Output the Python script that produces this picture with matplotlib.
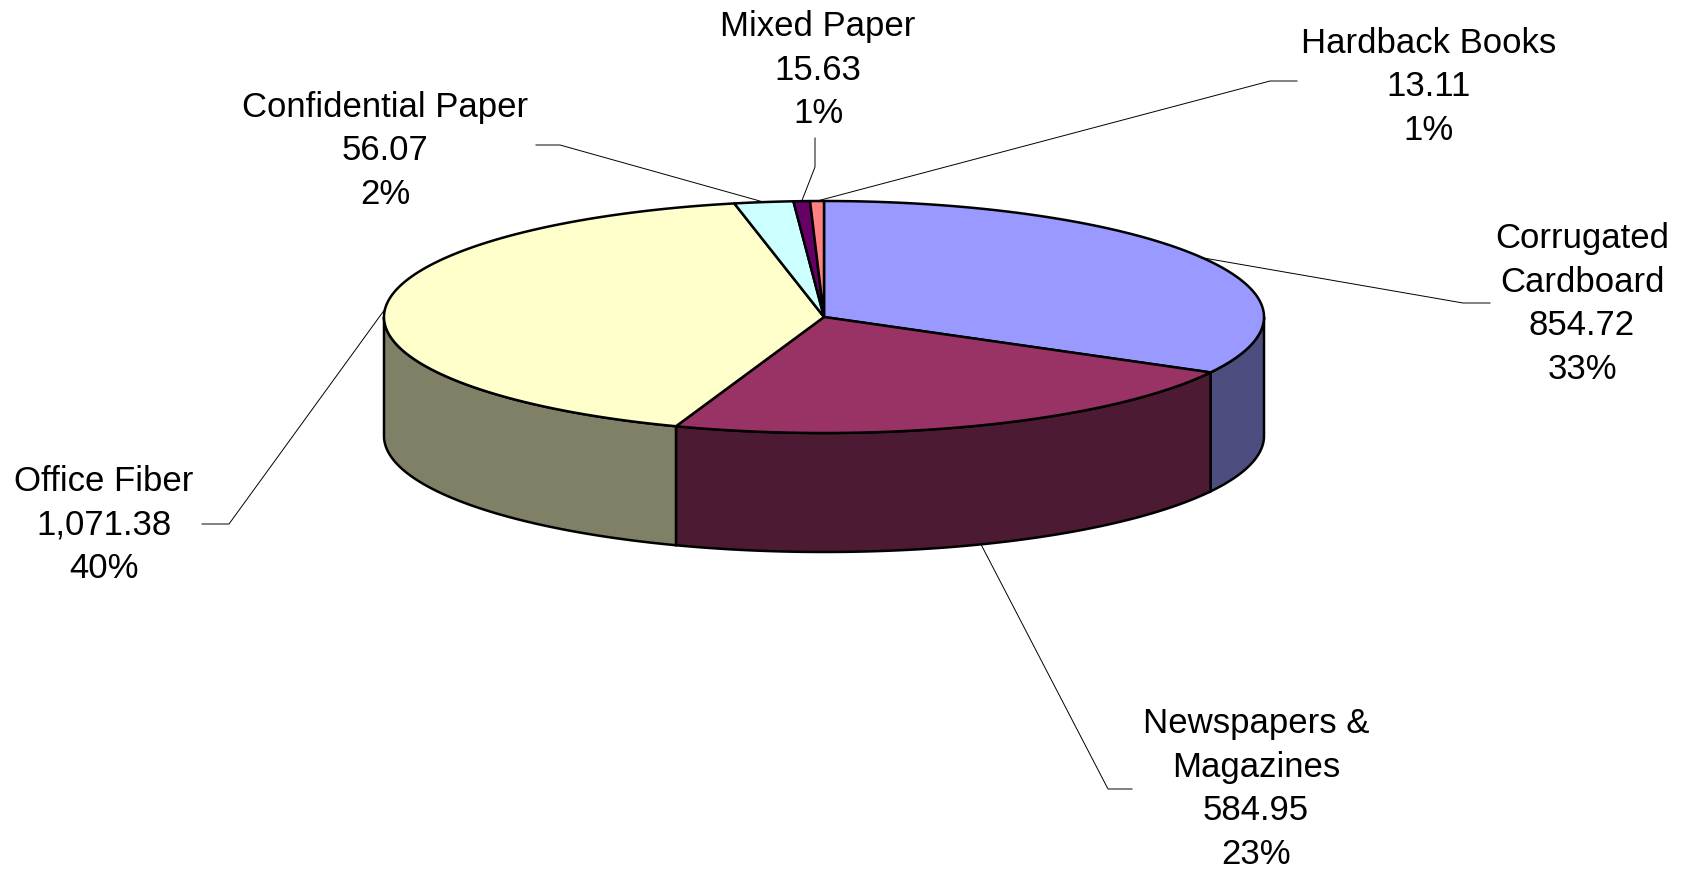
import numpy as np
import matplotlib
matplotlib.use("Agg")
import matplotlib.pyplot as plt
from matplotlib.patches import Polygon

# data
categories = ["Corrugated\nCardboard", "Newspapers &\nMagazines", "Office Fiber",
              "Confidential Paper", "Mixed Paper", "Hardback Books"]
values = [854.72, 584.95, 1071.38, 56.07, 15.63, 13.11]
value_labels = ["854.72", "584.95", "1,071.38", "56.07", "15.63", "13.11"]
pct_labels = ["33%", "23%", "40%", "2%", "1%", "1%"]
top_colors = ["#9999FF", "#993366", "#FFFFCC", "#CCFFFF", "#660066", "#FF8080"]
side_colors = ["#4D4D80", "#4D1A33", "#808066", "#668080", "#330033", "#804040"]

# pie geometry in pixel coords
W, H = 1685, 869
cx, cy, a, b, depth = 824, 317, 440, 116, 119

# label layout: text centre, elbow point, line end
label_pos = [(1582, 304), (1256, 789), (104, 525), (385, 151), (818, 70), (1429, 87)]
elbows = [((1463, 303), (1490, 303)), ((1108, 789), (1132, 789)),
          ((229, 524), (202, 524)), ((560, 145), (536, 145)),
          ((815, 167), (815, 138)), ((1270, 81), (1297, 81))]

plt.rcParams['font.family'] = ['Liberation Sans', 'DejaVu Sans']

fig = plt.figure(figsize=(W / 100, H / 100), dpi=100)
ax = fig.add_axes([0, 0, 1, 1])
ax.set_xlim(0, W)
ax.set_ylim(H, 0)
ax.axis('off')


def ell(t):
    t = np.radians(t)
    return cx + a * np.sin(t), cy - b * np.cos(t)


total = sum(values)
fracs = np.array(values) / total
edges = np.concatenate([[0], np.cumsum(fracs)]) * 360

# side walls (front half only)
for i in range(len(values)):
    lo, hi = max(edges[i], 90), min(edges[i + 1], 270)
    if hi <= lo:
        continue
    t = np.linspace(lo, hi, 100)
    x, y = ell(t)
    pts = np.concatenate([np.column_stack([x, y]),
                          np.column_stack([x[::-1], y[::-1] + depth])])
    ax.add_patch(Polygon(pts, closed=True, fc=side_colors[i], ec='black', lw=1.8, zorder=2))

# top faces
for i in range(len(values)):
    t = np.linspace(edges[i], edges[i + 1], max(int(edges[i + 1] - edges[i]) * 2, 4))
    x, y = ell(t)
    pts = np.vstack([[cx, cy], np.column_stack([x, y])])
    ax.add_patch(Polygon(pts, closed=True, fc=top_colors[i], ec='black', lw=1.8,
                         joinstyle='round', zorder=3))

# labels with leader lines
for i in range(len(values)):
    mid = (edges[i] + edges[i + 1]) / 2
    x0, y0 = ell(mid)
    if 90 < mid < 270:
        y0 += depth
    (ex, ey), (fx, fy) = elbows[i]
    ax.plot([x0, ex, fx], [y0, ey, fy], color='black', lw=0.7, zorder=4)
    tx, ty = label_pos[i]
    ax.text(tx, ty, f"{categories[i]}\n{value_labels[i]}\n{pct_labels[i]}",
            ha='center', va='center', multialignment='center',
            fontsize=25, linespacing=1.41, zorder=5)

fig.savefig("out.png", dpi=100)
